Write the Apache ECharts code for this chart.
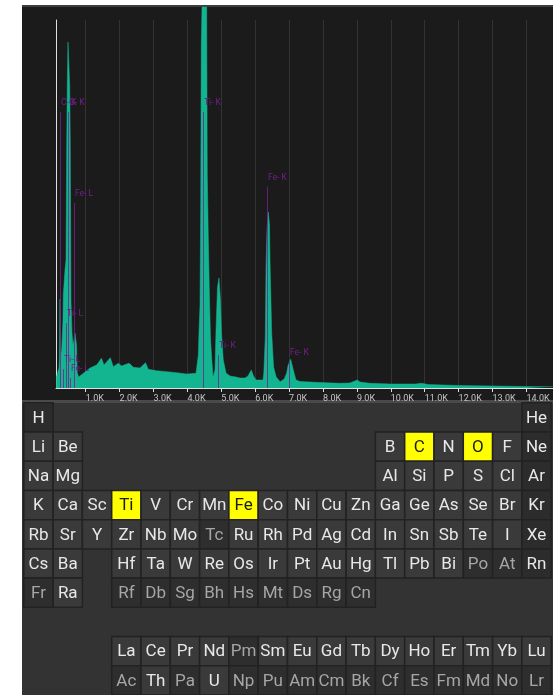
<!DOCTYPE html>
<html>
<head>
<meta charset="utf-8">
<script src="https://cdn.jsdelivr.net/npm/echarts@6/dist/echarts.min.js"></script>
<style>
  html, body { margin: 0; padding: 0; background: #ffffff; }
  #main { width: 553px; height: 695px; }
</style>
</head>
<body>
<div id="main"></div>
<script>
// spectrum (keV / counts)
var energyKeV = [0.13, 0.168, 0.212, 0.227, 0.242, 0.263, 0.286, 0.33, 0.339, 0.389, 0.419, 0.44, 0.457, 0.478, 0.507, 0.528, 0.546, 0.566, 0.596, 0.625, 0.655, 0.684, 0.705, 0.729, 0.752, 0.794, 0.832, 0.979, 1.127, 1.324, 1.466, 1.54, 1.569, 1.726, 1.814, 1.844, 1.962, 2.062, 2.21, 2.286, 2.404, 2.602, 2.764, 2.847, 3.094, 3.389, 3.684, 3.979, 4.254, 4.322, 4.342, 4.372, 4.392, 4.41, 4.431, 4.569, 4.587, 4.617, 4.652, 4.681, 4.717, 4.755, 4.814, 4.844, 4.888, 4.932, 4.976, 5.006, 5.059, 5.139, 5.257, 5.434, 5.552, 5.699, 5.788, 5.885, 5.95, 6.024, 6.142, 6.23, 6.254, 6.298, 6.319, 6.348, 6.386, 6.422, 6.437, 6.487, 6.543, 6.619, 6.737, 6.855, 6.929, 6.973, 7.047, 7.124, 7.204, 7.322, 7.91, 8.5, 8.79, 8.94, 9.01, 9.09, 9.38, 10.0, 10.72, 10.91, 11.1, 12.0, 13.0, 14.0, 14.78];
var counts = [100, 150, 200, 300, 890, 400, 330, 680, 930, 1180, 1280, 2410, 3030, 3460, 3460, 3030, 2410, 880, 550, 430, 480, 550, 560, 430, 150, 110, 130, 160, 200, 230, 297, 230, 240, 303, 213, 220, 247, 220, 240, 247, 207, 200, 253, 187, 173, 163, 153, 140, 147, 330, 560, 830, 1800, 3430, 3810, 3810, 2130, 1500, 900, 500, 300, 110, 180, 580, 1010, 1100, 880, 550, 280, 150, 120, 110, 100, 100, 120, 180, 120, 80, 80, 80, 150, 510, 1200, 1580, 1760, 1630, 1280, 550, 210, 110, 63, 90, 150, 230, 287, 180, 80, 65, 55, 47, 50, 70, 80, 60, 47, 40, 40, 47, 35, 25, 20, 15, 13];

// element line markers
var lineNames = ['C- K', 'O- K', 'Ti- L', 'Ti- L', 'Fe- L', 'Fe- L', 'Ti- K', 'Ti- K', 'Fe- K', 'Fe- K'];
var lineEnergy = [0.233, 0.487, 0.419, 0.33, 0.655, 0.54, 4.45, 4.894, 6.357, 7.012];
var lineTop = [2760, 2760, 650, 190, 1850, 100, 2760, 330, 2013, 260];

var tickValues = [1, 2, 3, 4, 5, 6, 7, 8, 9, 10, 11, 12, 13, 14];

// periodic table, '.' = empty cell
var tableRows = [
    'H . . . . . . . . . . . . . . . . He',
    'Li Be . . . . . . . . . . B C N O F Ne',
    'Na Mg . . . . . . . . . . Al Si P S Cl Ar',
    'K Ca Sc Ti V Cr Mn Fe Co Ni Cu Zn Ga Ge As Se Br Kr',
    'Rb Sr Y Zr Nb Mo Tc Ru Rh Pd Ag Cd In Sn Sb Te I Xe',
    'Cs Ba . Hf Ta W Re Os Ir Pt Au Hg Tl Pb Bi Po At Rn',
    'Fr Ra . Rf Db Sg Bh Hs Mt Ds Rg Cn . . . . . .',
    '. . . . . . . . . . . . . . . . . .',
    '. . . La Ce Pr Nd Pm Sm Eu Gd Tb Dy Ho Er Tm Yb Lu',
    '. . . Ac Th Pa U Np Pu Am Cm Bk Cf Es Fm Md No Lr'
];
var selectedElements = ['C', 'O', 'Ti', 'Fe'];
var darkElements = ['H', 'He', 'Ne', 'Ar', 'Kr', 'Xe', 'Rn'];
var greyElements = ['Tc', 'Pm', 'Po', 'At', 'Fr', 'Ac', 'Pa', 'Np', 'Pu', 'Am', 'Cm', 'Bk', 'Cf', 'Es', 'Fm', 'Md', 'No', 'Lr',
    'Rf', 'Db', 'Sg', 'Bh', 'Hs', 'Mt', 'Ds', 'Rg', 'Cn'];

var spectrumData = energyKeV.map(function (e, i) { return [e, counts[i]]; });
var markerData = lineEnergy.map(function (e, i) { return [e, lineTop[i], i]; });

var cellData = [];
var cellNames = [];
tableRows.forEach(function (row, r) {
    row.split(' ').forEach(function (s, c) {
        if (s !== '.') {
            cellNames.push(s);
            cellData.push([c, r, cellNames.length - 1]);
        }
    });
});
var cols = [];
for (var c = 0; c < 18; c++) cols.push(c);
var rows = [];
for (var r = 0; r < 10; r++) rows.push(r);

var chart = echarts.init(document.getElementById('main'));
chart.setOption({
    animation: false,
    graphic: [
        { type: 'rect', z: -10, shape: { x: 22, y: 5, width: 531, height: 398 }, style: { fill: '#1b1b1b' } },
        { type: 'rect', z: -9, shape: { x: 22, y: 5, width: 531, height: 2 }, style: { fill: '#3e3e3e' } },
        { type: 'rect', z: -9, shape: { x: 22, y: 400, width: 531, height: 3 }, style: { fill: '#4a4a4a' } },
        { type: 'rect', z: -10, shape: { x: 22, y: 403, width: 531, height: 292 }, style: { fill: '#333333' } }
    ],
    grid: [
        { left: 56, right: 0, top: 20, bottom: 307 },
        { left: 23.8, width: 527.4, top: 402.8, height: 293 }
    ],
    xAxis: [
        {
            type: 'value', gridIndex: 0, min: 0.124, max: 14.785,
            axisLine: { lineStyle: { color: '#e0e0e0', width: 1 } },
            axisTick: { customValues: tickValues, length: 4, lineStyle: { color: '#e0e0e0' } },
            axisLabel: {
                customValues: tickValues, align: 'left', margin: 6,
                color: '#c4c4c4', fontSize: 9, fontFamily: 'Roboto',
                formatter: function (v) { return v.toFixed(1) + 'K'; }
            },
            splitLine: { show: true, lineStyle: { color: '#333333', width: 1 } }
        },
        { type: 'category', gridIndex: 1, data: cols, show: false }
    ],
    yAxis: [
        {
            type: 'value', gridIndex: 0, min: 0, max: 3680,
            axisLine: { show: true, lineStyle: { color: '#e0e0e0', width: 1 } },
            axisTick: { show: false }, axisLabel: { show: false },
            splitLine: { show: false }
        },
        { type: 'category', gridIndex: 1, data: rows, inverse: true, show: false }
    ],
    series: [
        {
            type: 'line', xAxisIndex: 0, yAxisIndex: 0,
            data: spectrumData, showSymbol: false, clip: false,
            lineStyle: { width: 0.5, color: '#13b590' },
            areaStyle: { color: '#13b590', opacity: 1 },
            z: 2
        },
        {
            type: 'custom', xAxisIndex: 0, yAxisIndex: 0,
            data: markerData, z: 3,
            renderItem: function (params, api) {
                var top = api.coord([api.value(0), api.value(1)]);
                var base = api.coord([api.value(0), 0]);
                var x = Math.round(top[0]) + 0.5;
                return {
                    type: 'group',
                    children: [
                        { type: 'line', shape: { x1: x, y1: top[1], x2: x, y2: base[1] },
                          style: { stroke: '#7b1f90', lineWidth: 1, opacity: 0.8 } },
                        { type: 'text', x: x + 0.5, y: top[1] - 9,
                          style: { text: lineNames[api.value(2)], fill: '#761d8c', font: '8.5px Roboto', verticalAlign: 'middle' } }
                    ]
                };
            }
        },
        {
            type: 'custom', xAxisIndex: 1, yAxisIndex: 1,
            data: cellData, z: 2,
            renderItem: function (params, api) {
                var p = api.coord([api.value(0), api.value(1)]);
                var s = api.size([1, 1]);
                var name = cellNames[api.value(2)];
                var fill = '#3a3a3a', txt = '#e8e8e8';
                if (selectedElements.indexOf(name) >= 0) { fill = '#ffff00'; txt = '#1a1a1a'; }
                else if (greyElements.indexOf(name) >= 0) { fill = '#2e2e2e'; txt = '#a6a6a6'; }
                else if (darkElements.indexOf(name) >= 0) { fill = '#2c2c2c'; txt = '#e8e8e8'; }
                return {
                    type: 'group',
                    children: [
                        { type: 'rect', shape: { x: p[0] - s[0] / 2, y: p[1] - s[1] / 2, width: s[0], height: s[1] },
                          style: { fill: fill, stroke: '#222222', lineWidth: 1.5 } },
                        { type: 'text', x: p[0], y: p[1] + 1,
                          style: { text: name, fill: txt, font: '17px Roboto', align: 'center', verticalAlign: 'middle' } }
                    ]
                };
            }
        }
    ]
});
</script>
</body>
</html>
